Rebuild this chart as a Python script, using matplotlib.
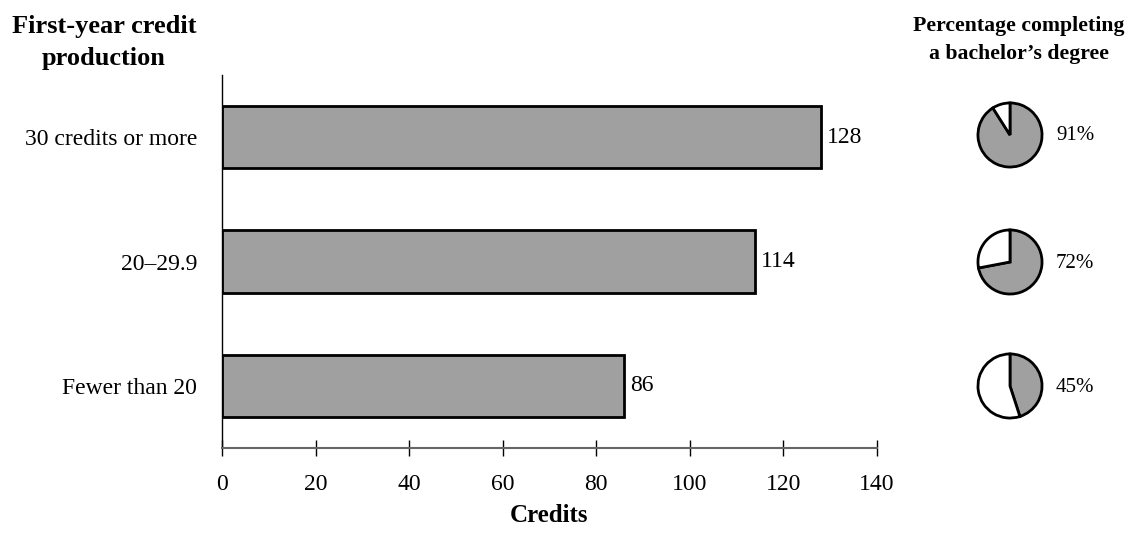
import numpy as np
import matplotlib.pyplot as plt

plt.rcParams['font.family'] = ['Liberation Serif', 'DejaVu Serif']

categories = ["Fewer than 20", "20\u201329.9", "30 credits or more"]
credits = [86, 114, 128]
pct_bachelor = [45, 72, 91]
xticks = [0, 20, 40, 60, 80, 100, 120, 140]

fig = plt.figure(figsize=(11.46, 5.54), dpi=100)
W, H = 1146, 554
ax = fig.add_axes([222 / W, 1 - 448 / H, 655 / W, (448 - 75) / H])

y = np.arange(len(categories))
ax.barh(y, credits, height=0.5, color="#a0a0a0", edgecolor="black", linewidth=2)
for yi, v in zip(y, credits):
    ax.text(v + 1.2, yi, str(v), va="center", ha="left", fontsize=17)

ax.set_xlim(0, 140)
ax.set_ylim(-0.5, 2.5)
ax.set_xticks(xticks)
ax.set_xticklabels([str(t) for t in xticks], fontsize=17)
ax.set_yticks(y)
ax.set_yticklabels(categories, fontsize=17)
ax.tick_params(axis="x", direction="inout", length=11, width=1, pad=13)
ax.tick_params(axis="y", length=0, pad=18)
ax.spines["top"].set_visible(False)
ax.spines["right"].set_visible(False)
ax.spines["bottom"].set_color("#666666")
ax.spines["bottom"].set_linewidth(1.5)
ax.spines["left"].set_linewidth(1)

fig.text(549 / W, 1 - 515 / H, "Credits", ha="center", va="center",
         fontsize=18, fontweight="bold")
fig.text(104 / W, 1 - 43 / H, "First-year credit\nproduction", ha="center",
         va="center", fontsize=19, fontweight="bold", linespacing=1.5)
fig.text(1019 / W, 1 - 40 / H, "Percentage completing\na bachelor\u2019s degree",
         ha="center", va="center", fontsize=15.7, fontweight="bold",
         linespacing=1.5)

# pies
r = 33
cy_px = [386, 262, 135]
cx = 1010
for p, cyp in zip(pct_bachelor, cy_px):
    pax = fig.add_axes([(cx - r) / W, 1 - (cyp + r) / H, 2 * r / W, 2 * r / H])
    pax.pie([p, 100 - p], colors=["#a0a0a0", "white"], startangle=90,
            counterclock=False,
            wedgeprops=dict(edgecolor="black", linewidth=2))
    pax.set_xlim(-1.03, 1.03)
    pax.set_ylim(-1.03, 1.03)
    pax.set_aspect("equal")
    fig.text((cx + r + 13) / W, 1 - (cyp + 1) / H, f"{p}%", ha="left",
             va="center", fontsize=15)

fig.savefig("out.png", dpi=100)
